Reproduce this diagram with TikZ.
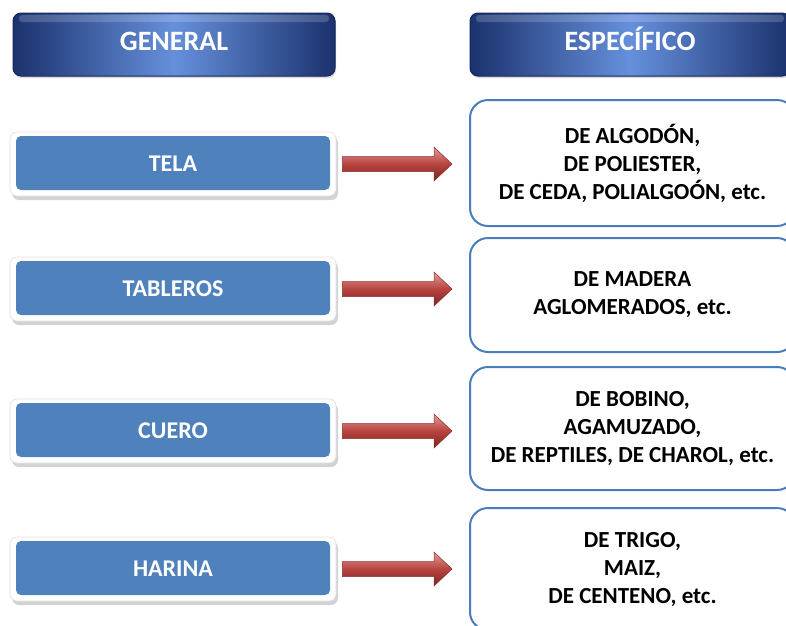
\documentclass[tikz,border=0pt]{standalone}
\usepackage{fontspec}
\setmainfont{Carlito}
\usetikzlibrary{shadows,arrows.meta,calc}
\definecolor{hdrdark}{HTML}{1B326E}
\definecolor{hdrlight}{HTML}{6690DC}
\definecolor{hdredge}{HTML}{15275A}
\definecolor{gblue}{HTML}{4F81BD}
\definecolor{bordblue}{HTML}{4A7EBB}
\definecolor{arrtop}{HTML}{E29A97}
\definecolor{arrmid}{HTML}{B8443F}
\definecolor{arrbot}{HTML}{7A2422}
\definecolor{arredge}{HTML}{8C2E2B}
\tikzset{
  header/.style={rounded corners=8pt, draw=hdredge, line width=1pt,
    left color=hdrdark, right color=hdrdark, middle color=hdrlight,
    text=white, font=\bfseries\fontsize{28}{32}\selectfont,
    minimum height=63pt, inner sep=0pt, text height=22pt, text depth=11pt,
    drop shadow={opacity=0.3, shadow xshift=1pt, shadow yshift=-2pt},
    path picture={\fill[white, opacity=0.18, rounded corners=3pt]
      ([shift={(6pt,-2pt)}]path picture bounding box.north west) rectangle
      ([shift={(-6pt,-9pt)}]path picture bounding box.north east);}},
  genbox/.style={rounded corners=7pt, fill=white, draw=black!12, line width=0.6pt,
    minimum width=326pt, minimum height=64pt, inner sep=0pt,
    text=white, font=\bfseries\fontsize{24}{28}\selectfont,
    drop shadow={opacity=0.35, shadow xshift=2pt, shadow yshift=-4pt},
    path picture={\fill[gblue, rounded corners=5pt]
      ([shift={(6pt,6pt)}]path picture bounding box.south west) rectangle
      ([shift={(-6pt,-4pt)}]path picture bounding box.north east);}},
  specbox/.style={rounded corners=18pt, fill=white, draw=bordblue, line width=2pt,
    minimum width=325pt, inner sep=0pt, align=center,
    font=\bfseries\fontsize{23}{28}\selectfont},
  conn/.style={draw=arredge, line width=0.5pt, line join=miter,
    top color=arrtop, bottom color=arrbot, middle color=arrmid}
}
\begin{document}
\begin{tikzpicture}[x=1pt,y=-1pt]
\useasboundingbox (0,0) rectangle (786,625);
\clip (0,0) rectangle (786,625);
% headers
\node[header, minimum width=322pt] (hg) at (174,44.5) {GENERAL};
\node[header, minimum width=320pt] (hs) at (630,44.5) {ESPECÍFICO};
% left boxes
\node[genbox] (l1) at (173,164) {TELA};
\node[genbox] (l2) at (173,289) {TABLEROS};
\node[genbox] (l3) at (173,431) {CUERO};
\node[genbox] (l4) at (173,569) {HARINA};
% right boxes
\node[specbox, minimum height=126pt] (r1) at (632.5,163) {DE ALGODÓN,\\DE POLIESTER,\\DE CEDA, POLIALGOÓN, etc.};
\node[specbox, minimum height=114pt] (r2) at (632.5,295) {DE MADERA\\AGLOMERADOS, etc.};
\node[specbox, minimum height=123pt] (r3) at (632.5,428.5) {DE BOBINO,\\AGAMUZADO,\\DE REPTILES, DE CHAROL, etc.};
\node[specbox, minimum height=122pt] (r4) at (632.5,569) {DE TRIGO,\\MAIZ,\\DE CENTENO, etc.};
% connectors (block arrows from left box to right box)
\foreach \i in {1,2,3,4}{
  \coordinate (a\i) at ($(l\i.east)+(6pt,0pt)$);
  \coordinate (b\i) at ($(l\i.east -| r\i.west)+(-17pt,0pt)$);
  \path[conn] ($(a\i)+(0pt,7.5pt)$) -- ($(b\i)+(-18pt,7.5pt)$) -- ($(b\i)+(-18pt,17pt)$)
    -- (b\i) -- ($(b\i)+(-18pt,-17pt)$) -- ($(b\i)+(-18pt,-7.5pt)$)
    -- ($(a\i)+(0pt,-7.5pt)$) -- cycle;
}
\end{tikzpicture}
\end{document}
